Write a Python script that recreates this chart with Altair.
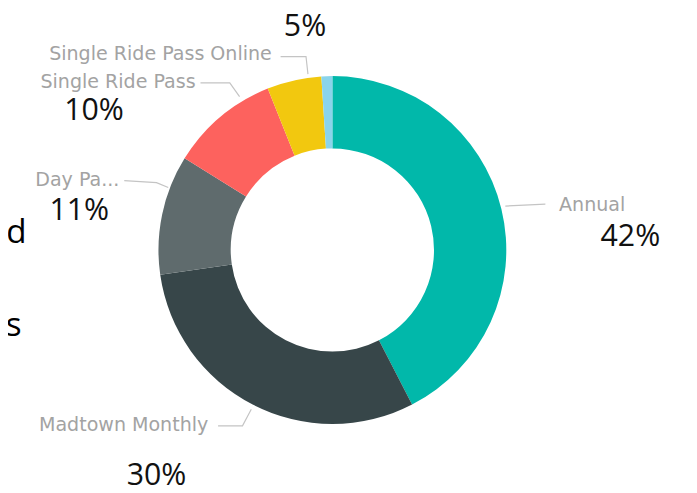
import altair as alt
import pandas as pd

# ---- data ----
categories = ["Annual", "Madtown Monthly", "Day Pass", "Single Ride Pass",
              "Single Ride Pass Online", "Other"]
values = [42, 30, 11, 10, 5, 1]
colors = ["#01B8AA", "#374649", "#5F6B6D", "#FD625E", "#F2C80F", "#8AD4EB"]

label_cats = ["Annual", "Madtown Monthly", "Day Pass", "Single Ride Pass",
              "Single Ride Pass Online"]
label_names = ["Annual", "Madtown Monthly", "Day Pa...", "Single Ride Pass",
               "Single Ride Pass Online"]
pct_labels = ["42%", "30%", "11%", "10%", "5%"]

# ---- layout (pixel positions of annotations, chart coordinates) ----
name_x = [564, 205, 114, 192, 270]
name_y = [196, 421, 170, 70, 42]
name_align = ["left", "right", "right", "right", "right"]
pct_x = [637, 152, 73, 88, 304]
pct_y = [229, 473, 202, 100, 14]
leader_pts = [
    [(509, 197), (550, 195)],
    [(215, 422), (240, 422), (249, 405)],
    [(119, 171), (152, 173), (164, 178)],
    [(197, 71), (227, 71), (237, 85)],
    [(279, 44), (305, 44), (307, 62)],
]

W, H = 664, 484

df = pd.DataFrame({"category": categories, "value": values,
                   "idx": list(range(len(categories)))})

arc = alt.Chart(df).mark_arc(innerRadius=104, outerRadius=178).encode(
    theta=alt.Theta("value:Q", stack=True),
    color=alt.Color("category:N", scale=alt.Scale(domain=categories, range=colors),
                    legend=None),
    order=alt.Order("idx:Q"),
)

lab = pd.DataFrame({"cat": label_cats, "name": label_names, "pct": pct_labels,
                    "nx": name_x, "ny": name_y, "align": name_align,
                    "px": pct_x, "py": pct_y})

xs = lambda f: alt.X(f, scale=None, axis=None)
ys = lambda f: alt.Y(f, scale=None, axis=None)

name_style = dict(baseline="middle", font="DejaVu Sans", fontSize=19.5,
                  color="#a3a3a3")

names_r = alt.Chart(lab[lab["align"] == "right"]).mark_text(
    align="right", **name_style
).encode(x=xs("nx:Q"), y=ys("ny:Q"), text="name:N")

names_l = alt.Chart(lab[lab["align"] == "left"]).mark_text(
    align="left", **name_style
).encode(x=xs("nx:Q"), y=ys("ny:Q"), text="name:N")

pcts = alt.Chart(lab).mark_text(
    align="center", baseline="middle", font="Open Sans", fontSize=31, color="#111111"
).encode(x=xs("px:Q"), y=ys("py:Q"), text="pct:N")

rows = []
for cat, pts in zip(label_cats, leader_pts):
    for i, (x, y) in enumerate(pts):
        rows.append({"cat": cat, "i": i, "lx": x, "ly": y})
lead_df = pd.DataFrame(rows)

leaders = alt.Chart(lead_df).mark_line(color="#c4c4c4", strokeWidth=1.2).encode(
    x=xs("lx:Q"), y=ys("ly:Q"), detail="cat:N", order="i:Q")

side_df = pd.DataFrame({"t": ["ed", "rs"], "x": [19, 14], "y": [225, 320]})
side = alt.Chart(side_df).mark_text(
    align="right", baseline="middle", font="Open Sans", fontSize=34, color="#000000"
).encode(x=xs("x:Q"), y=ys("y:Q"), text="t:N")

chart = alt.layer(arc, leaders, names_r, names_l, pcts, side).properties(
    width=W, height=H,
    autosize=alt.AutoSizeParams(type="none"),
    padding={"left": 0, "top": 0, "right": 33, "bottom": 1},
).configure_view(stroke=None)

chart.save("out.html", embed_options={"renderer": "svg", "actions": False})
